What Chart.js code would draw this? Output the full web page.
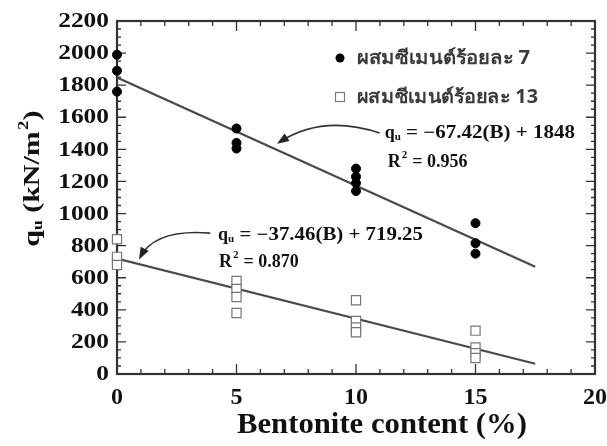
<!DOCTYPE html>
<html>
<head>
<meta charset="utf-8">
<script src="https://cdn.jsdelivr.net/npm/chart.js@4.4.1/dist/chart.umd.min.js"></script>
<style>
  html, body { margin: 0; padding: 0; background: #fff; }
  #wrap { width: 607px; height: 446px; }
</style>
</head>
<body>
<div id="wrap"><canvas id="qu"></canvas></div>
<script>
// ---- data ----
const xTicks = [0, 5, 10, 15, 20];
const yTicks = [0, 200, 400, 600, 800, 1000, 1200, 1400, 1600, 1800, 2000, 2200];

// ผสมซีเมนต์ร้อยละ 7 (filled circles)
const cem7X = [0, 0, 0, 5, 5, 5, 10, 10, 10, 10, 15, 15, 15];
const cem7Qu = [1990, 1890, 1760, 1530, 1440, 1405, 1280, 1230, 1190, 1140, 940, 815, 750];

// ผสมซีเมนต์ร้อยละ 13 (open squares)
const cem13X = [0, 0, 0, 5, 5, 5, 5, 10, 10, 10, 10, 15, 15, 15, 15];
const cem13Qu = [840, 730, 680, 580, 530, 480, 380, 460, 330, 290, 260, 270, 165, 130, 100];

// regression line end points
const fitX = [0, 17.5];
const fit7 = [1848, 668];
const fit13 = [719, 64];

const legendLabels = ['ผสมซีเมนต์ร้อยละ 7', 'ผสมซีเมนต์ร้อยละ 13'];
const eq7 = ['= \u221267.42(B) + 1848', '0.956'];
const eq13 = ['= \u221237.46(B) + 719.25', '0.870'];

const toPts = (xs, ys) => xs.map((x, i) => ({ x: x, y: ys[i] }));

const SERIF = '"Liberation Serif", "DejaVu Serif", serif';

// draw text squeezed/stretched to a given width
function fitText(ctx, txt, x, y, font, w) {
    ctx.save();
    ctx.font = font;
    const m = ctx.measureText(txt).width;
    ctx.translate(x, y);
    ctx.scale(w / m, 1);
    ctx.fillText(txt, 0, 0);
    ctx.restore();
}

// q with subscript u, then the rest; returns end x
function drawQu(ctx, x, y, size) {
    ctx.font = 'bold ' + size + 'px ' + SERIF;
    ctx.fillText('q', x, y);
    let w = ctx.measureText('q').width;
    ctx.font = 'bold ' + Math.round(size * 0.6) + 'px ' + SERIF;
    ctx.fillText('u', x + w, y + size * 0.22);
    return x + w + ctx.measureText('u').width;
}

function drawArrow(ctx, x0, y0, cx, cy, x1, y1) {
    ctx.save();
    ctx.strokeStyle = '#333';
    ctx.fillStyle = '#222';
    ctx.lineWidth = 1.6;
    ctx.beginPath();
    ctx.moveTo(x0, y0);
    ctx.quadraticCurveTo(cx, cy, x1, y1);
    ctx.stroke();
    const a = Math.atan2(y1 - cy, x1 - cx);
    ctx.beginPath();
    ctx.moveTo(x1 + 3 * Math.cos(a), y1 + 3 * Math.sin(a));
    ctx.lineTo(x1 - 9 * Math.cos(a) + 4.5 * Math.sin(a), y1 - 9 * Math.sin(a) - 4.5 * Math.cos(a));
    ctx.lineTo(x1 - 9 * Math.cos(a) - 4.5 * Math.sin(a), y1 - 9 * Math.sin(a) + 4.5 * Math.cos(a));
    ctx.closePath();
    ctx.fill();
    ctx.restore();
}

// frame, inward ticks and tick labels
const framePlugin = {
    id: 'frame',
    beforeDatasetsDraw(chart) {
        const { ctx, chartArea: a, scales: { x, y } } = chart;
        ctx.save();
        ctx.strokeStyle = '#333';
        ctx.lineWidth = 1.3;
        ctx.beginPath();
        for (let v = 0; v <= 20; v += 1) {
            const px = x.getPixelForValue(v);
            const len = v % 5 === 0 ? 10 : 5;
            ctx.moveTo(px, a.bottom); ctx.lineTo(px, a.bottom - len);
            ctx.moveTo(px, a.top); ctx.lineTo(px, a.top + len);
        }
        for (let v = 0; v <= 2200; v += 50) {
            const py = y.getPixelForValue(v);
            const len = v % 200 === 0 ? 9 : 4;
            ctx.moveTo(a.left, py); ctx.lineTo(a.left + len, py);
            ctx.moveTo(a.right, py); ctx.lineTo(a.right - len, py);
        }
        ctx.stroke();
        ctx.lineWidth = 2.2;
        ctx.strokeRect(a.left, a.top, a.right - a.left, a.bottom - a.top);
        ctx.restore();
    },
    afterDraw(chart) {
        const { ctx, chartArea: a, scales: { x, y } } = chart;
        ctx.save();
        ctx.fillStyle = '#111';
        ctx.textBaseline = 'middle';

        // y tick labels (wide bold serif)
        ctx.textAlign = 'left';
        yTicks.forEach(v => {
            const txt = String(v);
            const w = txt.length * 12.7;
            fitText(ctx, txt, a.left - 8 - w, y.getPixelForValue(v) + 1, 'bold 20px ' + SERIF, w);
        });
        // x tick labels
        ctx.textAlign = 'center';
        ctx.font = 'bold 24px ' + SERIF;
        xTicks.forEach(v => ctx.fillText(String(v), x.getPixelForValue(v), a.bottom + 24));

        // x title
        ctx.textAlign = 'left';
        fitText(ctx, 'Bentonite content (%)', 237, a.bottom + 52, 'bold 29px ' + SERIF, 290);

        // y title, rotated
        ctx.save();
        ctx.translate(33, 178);
        ctx.rotate(-Math.PI / 2);
        ctx.scale(1.25, 1);
        ctx.textAlign = 'left';
        let px = -55;
        px = drawQu(ctx, px, 0, 24);
        ctx.font = 'bold 24px ' + SERIF;
        ctx.fillText(' (kN/m', px, 0);
        px += ctx.measureText(' (kN/m').width;
        ctx.font = 'bold 15px ' + SERIF;
        ctx.fillText('2', px + 1, -9);
        px += ctx.measureText('2').width + 1;
        ctx.font = 'bold 24px ' + SERIF;
        ctx.fillText(')', px, 0);
        ctx.restore();

        // legend
        const lx = 340;
        ctx.fillStyle = '#000';
        ctx.beginPath(); ctx.arc(lx, 58, 4.5, 0, Math.PI * 2); ctx.fill();
        ctx.strokeStyle = '#777'; ctx.lineWidth = 1.2;
        ctx.fillStyle = '#fff';
        ctx.fillRect(lx - 4.5, 92.5, 9, 9); ctx.strokeRect(lx - 4.5, 92.5, 9, 9);
        ctx.fillStyle = '#3a3a3a';
        fitText(ctx, legendLabels[0], 357, 59, 'bold 19px "Noto Sans", "DejaVu Sans", sans-serif', 173);
        fitText(ctx, legendLabels[1], 357, 98, 'bold 19px "Noto Sans", "DejaVu Sans", sans-serif', 181);

        // equations
        ctx.fillStyle = '#111';
        const e7x = x.getPixelForValue(11.2), e7y = y.getPixelForValue(1502);
        let ex = drawQu(ctx, e7x, e7y, 18);
        fitText(ctx, ' ' + eq7[0], ex, e7y, 'bold 18px ' + SERIF, 575 - ex);
        const r7y = e7y + 29;
        ctx.font = 'bold 18px ' + SERIF;
        ctx.fillText('R', e7x + 3, r7y);
        let rw = ctx.measureText('R').width;
        ctx.font = 'bold 11px ' + SERIF;
        ctx.fillText('2', e7x + 3 + rw + 1, r7y - 7);
        ctx.font = 'bold 18px ' + SERIF;
        ctx.fillText(' = ' + eq7[1], e7x + 3 + rw + 7, r7y);

        const e13x = x.getPixelForValue(4.23), e13y = y.getPixelForValue(866);
        ex = drawQu(ctx, e13x, e13y, 18);
        fitText(ctx, ' ' + eq13[0], ex, e13y, 'bold 18px ' + SERIF, 423 - ex);
        const r13y = e13y + 27;
        ctx.font = 'bold 18px ' + SERIF;
        ctx.fillText('R', e13x + 1, r13y);
        rw = ctx.measureText('R').width;
        ctx.font = 'bold 11px ' + SERIF;
        ctx.fillText('2', e13x + 1 + rw + 1, r13y - 7);
        ctx.font = 'bold 18px ' + SERIF;
        ctx.fillText(' = ' + eq13[1], e13x + 1 + rw + 7, r13y);

        // arrows
        drawArrow(ctx,
            x.getPixelForValue(10.99), y.getPixelForValue(1502),
            x.getPixelForValue(8.6), y.getPixelForValue(1620),
            x.getPixelForValue(6.8), y.getPixelForValue(1445));
        drawArrow(ctx,
            x.getPixelForValue(3.9), y.getPixelForValue(878),
            x.getPixelForValue(1.6), y.getPixelForValue(905),
            x.getPixelForValue(0.98), y.getPixelForValue(730));
        ctx.restore();
    }
};

new Chart(document.getElementById('qu'), {
    type: 'scatter',
    data: {
        datasets: [
            {
                type: 'line',
                data: toPts(fitX, fit7),
                borderColor: '#4a4a4a',
                borderWidth: 2.2,
                pointRadius: 0,
                order: 3
            },
            {
                type: 'line',
                data: toPts(fitX, fit13),
                borderColor: '#4a4a4a',
                borderWidth: 2.2,
                pointRadius: 0,
                order: 3
            },
            {
                label: legendLabels[0],
                data: toPts(cem7X, cem7Qu),
                pointStyle: 'circle',
                pointRadius: 4.5,
                backgroundColor: '#000',
                borderColor: '#000',
                borderWidth: 1,
                clip: false,
                order: 1
            },
            {
                label: legendLabels[1],
                data: toPts(cem13X, cem13Qu),
                pointStyle: 'rect',
                pointRadius: 6.5,
                backgroundColor: '#fff',
                borderColor: '#777',
                borderWidth: 1.2,
                clip: false,
                order: 2
            }
        ]
    },
    options: {
        responsive: true,
        maintainAspectRatio: false,
        animation: false,
        layout: { padding: { left: 117, right: 12, top: 21, bottom: 72 } },
        plugins: { legend: { display: false }, tooltip: { enabled: false } },
        scales: {
            x: { type: 'linear', min: 0, max: 20, display: false },
            y: { type: 'linear', min: 0, max: 2200, display: false }
        }
    },
    plugins: [framePlugin]
});
</script>
</body>
</html>
